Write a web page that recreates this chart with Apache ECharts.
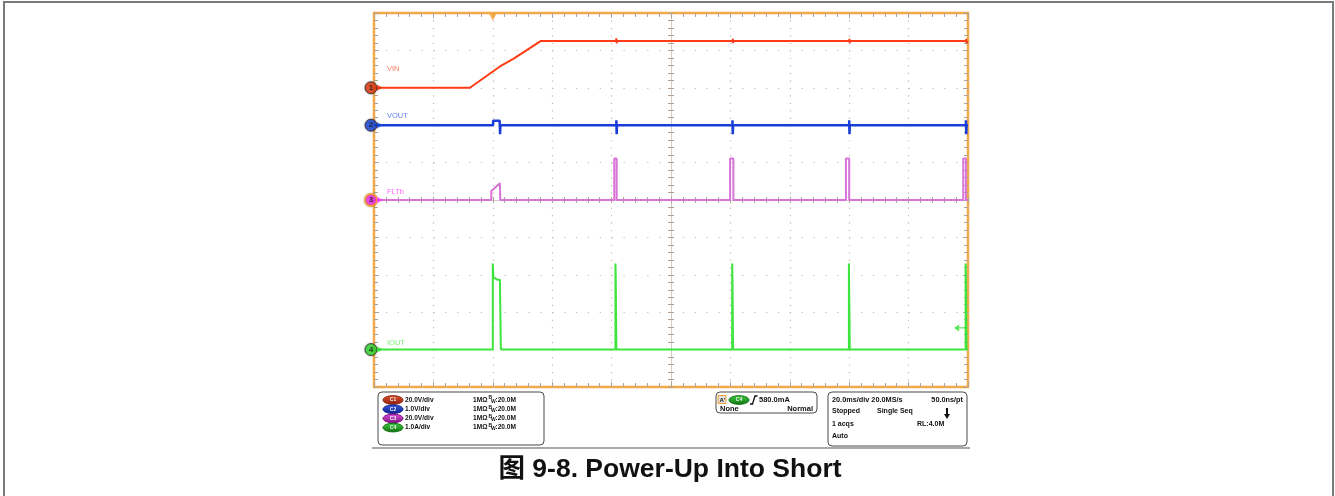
<!DOCTYPE html>
<html>
<head>
<meta charset="utf-8">
<script src="https://cdn.jsdelivr.net/npm/echarts@6/dist/echarts.min.js"></script>
<style>
  html, body { margin: 0; padding: 0; background: #ffffff; }
  #scope { width: 1335px; height: 496px; }
</style>
</head>
<body>
<div id="scope"></div>
<script>
// Time base: 20 ms/div, 10 divisions, trigger at t = 0 ms
const timeMin = -40;
const timeMax = 160;
const timePerDiv = 20;

// Channel names and vertical settings (units per division, baseline in divisions from bottom)
const channelNames = ['VIN', 'VOUT', 'FLTb', 'IOUT'];
const channelScale = [20, 1, 20, 1];
const channelBaseDiv = [8, 7, 5, 1];

// CH1 VIN (V)
const vinTime  = [-40, -7.7, 2.4, 6.9, 16.1, 41.5, 41.6, 41.7, 41.8, 80.7, 80.8, 80.9, 81.0, 120.0, 120.1, 120.2, 120.3, 159.3, 159.4, 159.5, 160];
const vinVolts = [0, 0, 11.4, 15.5, 25.0, 25.0, 26.4, 23.8, 25.0, 25.0, 26.2, 23.9, 25.0, 25.0, 26.2, 23.9, 25.0, 25.0, 26.2, 23.9, 25.0];

// CH2 VOUT (V)
const voutTime  = [-40, 0.1, 0.1, 2.3, 2.35, 2.45, 2.55, 41.6, 41.6, 41.7, 41.8, 80.7, 80.7, 80.8, 80.9, 120.0, 120.0, 120.1, 120.2, 159.3, 159.3, 159.4, 159.5, 160];
const voutVolts = [0, 0, 0.12, 0.12, 0, -0.24, 0, 0, 0.13, -0.24, 0, 0, 0.13, -0.24, 0, 0, 0.13, -0.24, 0, 0, 0.13, -0.24, 0, 0];

// CH3 FLTb (V)
const fltTime  = [-40, -0.5, -0.5, 2.4, 2.5, 40.9, 40.9, 41.7, 41.7, 79.9, 79.9, 81.0, 81.0, 118.9, 118.9, 120.0, 120.0, 158.4, 158.4, 159.3, 159.3, 160];
const fltVolts = [0, 0, 4.8, 8.9, 0, 0, 22.2, 22.2, 0, 0, 22.2, 22.2, 0, 0, 22.2, 22.2, 0, 0, 22.2, 22.2, 0, 0];

// CH4 IOUT (A)
const ioutTime = [-40, 0.0, 0.0, 0.2, 0.6, 1.5, 2.4, 2.7, 41.3, 41.3, 41.4, 41.6, 80.6, 80.6, 80.7, 80.9, 119.9, 119.9, 120.0, 120.2, 159.2, 159.2, 159.3, 159.5, 160];
const ioutAmps = [0, 0, 2.3, 1.93, 1.93, 1.87, 1.87, 0, 0, 2.3, 1.9, 0, 0, 2.3, 1.9, 0, 0, 2.3, 1.45, 0, 0, 2.3, 1.9, 0, 0];

// Trigger: CH4 rising edge at 580.0 mA
const triggerLevelAmps = 0.58;

const traceTimes  = [vinTime, voutTime, fltTime, ioutTime];
const traceValues = [vinVolts, voutVolts, fltVolts, ioutAmps];

const traceColors  = ['#ff3c16', '#1a3cd8', '#d873d8', '#3ee43e'];
const traceWidths  = [2, 2.5, 2, 2];
const markerFill   = ['#e8380f', '#1848e0', '#ff30ff', '#30e030'];
const labelColors  = ['#ff5a3a', '#3a62ff', '#ff44ff', '#56f056'];
const labelLift    = [-19, -9, -8, -7];

const gridDotColor = '#c2bab0';
const tickColor = '#b0a292';
const FONT = '"Liberation Sans", Arial, sans-serif';

function xAxisDef(extra) {
  return Object.assign({
    type: 'value', min: timeMin, max: timeMax, interval: timePerDiv,
    axisLabel: { show: false },
    axisLine: { show: false, onZero: false },
    splitLine: { show: false },
    axisTick: { show: true, inside: true, length: 5, lineStyle: { color: tickColor, width: 1 } },
    minorTick: { show: true, splitNumber: 5, length: 4, lineStyle: { color: tickColor, width: 1 } }
  }, extra);
}
function yAxisDef(extra) {
  return Object.assign({
    type: 'value', min: 0, max: 10, interval: 1,
    axisLabel: { show: false },
    axisLine: { show: false, onZero: false },
    splitLine: { show: false },
    axisTick: { show: true, inside: true, length: 5, lineStyle: { color: tickColor, width: 1 } },
    minorTick: { show: true, splitNumber: 5, length: 4, lineStyle: { color: tickColor, width: 1 } }
  }, extra);
}

const xAxes = [
  xAxisDef({ position: 'bottom',
    splitLine: { show: true, lineStyle: { color: gridDotColor, width: 1.2, type: [1.2, 6.28] } } }),
  xAxisDef({ position: 'top' }),
  xAxisDef({ position: 'bottom', offset: -187,
    axisLine: { show: true, onZero: false, lineStyle: { color: '#d2cbc3', width: 1 } },
    axisTick: { show: true, inside: true, length: 3, lineStyle: { color: tickColor } },
    minorTick: { show: true, splitNumber: 5, length: 3, lineStyle: { color: tickColor } } }),
  xAxisDef({ position: 'bottom', offset: -187,
    axisTick: { show: true, inside: false, length: 3, lineStyle: { color: tickColor } },
    minorTick: { show: true, splitNumber: 5, length: 3, lineStyle: { color: tickColor } } })
];

const yAxes = [
  yAxisDef({ position: 'left',
    splitLine: { show: true, lineStyle: { color: gridDotColor, width: 1.2, type: [1.2, 10.68] } } }),
  yAxisDef({ position: 'right' }),
  yAxisDef({ position: 'left', offset: -297,
    axisLine: { show: true, onZero: false, lineStyle: { color: '#d2cbc3', width: 1 } },
    axisTick: { show: true, inside: true, length: 3, lineStyle: { color: tickColor } },
    minorTick: { show: true, splitNumber: 5, length: 3, lineStyle: { color: tickColor } } }),
  yAxisDef({ position: 'left', offset: -297,
    axisTick: { show: true, inside: false, length: 3, lineStyle: { color: tickColor } },
    minorTick: { show: true, splitNumber: 5, length: 3, lineStyle: { color: tickColor } } })
];
// one hidden vertical scale per channel
channelNames.forEach((n, i) => {
  yAxes.push({
    type: 'value', show: false,
    min: -channelBaseDiv[i] * channelScale[i],
    max: (10 - channelBaseDiv[i]) * channelScale[i],
    axisLine: { onZero: false }
  });
});

const series = [];
channelNames.forEach((name, i) => {
  series.push({
    type: 'line', name: name, xAxisIndex: 0, yAxisIndex: 4 + i,
    data: traceTimes[i].map((t, k) => [t, traceValues[i][k]]),
    symbol: 'none', showSymbol: false, z: 3 + i * 0.1,
    lineStyle: { color: traceColors[i], width: traceWidths[i] }
  });
});
// channel ground markers, arrows and names on the left edge
channelNames.forEach((name, i) => {
  series.push({
    type: 'scatter', xAxisIndex: 0, yAxisIndex: 4 + i, clip: false, silent: true, z: 6,
    data: [[timeMin, 0]],
    symbol: 'circle', symbolSize: 12, symbolOffset: [-3, 0],
    itemStyle: {
      color: markerFill[i],
      borderColor: i === 2 ? '#ffa326' : '#3a2a2a',
      borderWidth: i === 2 ? 2 : 1,
      shadowBlur: 2, shadowColor: 'rgba(0,0,0,0.35)'
    },
    label: { show: true, position: 'inside', formatter: String(i + 1),
      color: '#111', fontSize: 8, fontWeight: 'bold', fontFamily: FONT }
  });
  series.push({
    type: 'scatter', xAxisIndex: 0, yAxisIndex: 4 + i, clip: false, silent: true, z: 6,
    data: [[timeMin, 0]],
    symbol: 'path://M0,0 L10,5 L0,10 Z', symbolSize: [6, 6], symbolOffset: [6, 0],
    itemStyle: { color: markerFill[i] }
  });
  series.push({
    type: 'scatter', xAxisIndex: 0, yAxisIndex: 4 + i, clip: false, silent: true, z: 6,
    data: [[timeMin, 0]],
    symbolSize: 0,
    label: { show: true, position: 'right', offset: [8, labelLift[i]], formatter: name,
      color: labelColors[i], fontSize: 7.5, fontFamily: FONT }
  });
});
// trigger position marker at top edge
series.push({
  type: 'scatter', xAxisIndex: 0, yAxisIndex: 0, clip: false, silent: true, z: 6,
  data: [[0, 10]],
  symbol: 'path://M0,0 L10,0 L5,9 Z', symbolSize: [8, 7], symbolOffset: [0, 4],
  itemStyle: { color: '#f5a031' }
});
// trigger level marker at right edge
series.push({
  type: 'scatter', xAxisIndex: 0, yAxisIndex: 7, clip: false, silent: true, z: 6,
  data: [[timeMax, triggerLevelAmps]],
  symbol: 'path://M0,5 L6,0 L6,4 L14,4 L14,6 L6,6 L6,10 Z', symbolSize: [12, 7], symbolOffset: [-8, 0],
  itemStyle: { color: '#36e036' }
});

// ---------- readout panel under the graticule ----------
const PANEL_FONT = 'bold 7px ' + FONT;
const CH_FONT = 'bold 6.6px ' + FONT;
function txt(x, y, s, opt) {
  return {
    type: 'text', x: x, y: y, silent: true,
    style: Object.assign({ text: s, font: PANEL_FONT, fill: '#111', verticalAlign: 'middle' }, opt || {})
  };
}
function badge(cx, cy, fill, dark, label) {
  return [
    { type: 'ellipse', silent: true, shape: { cx: cx, cy: cy, rx: 10, ry: 4.3 },
      style: { fill: new echarts.graphic.LinearGradient(0, 0, 0, 1, [
        { offset: 0, color: fill }, { offset: 1, color: dark }]), stroke: dark, lineWidth: 1 } },
    { type: 'text', silent: true, x: cx, y: cy,
      style: { text: label, font: 'bold 5px ' + FONT, fill: '#f4f4f4', align: 'center', verticalAlign: 'middle' } }
  ];
}

const scaleTexts = ['20.0V/div', '1.0V/div', '20.0V/div', '1.0A/div'];
const badgeFill = ['#e4502a', '#3a5ae8', '#e050e0', '#40d040'];
const badgeDark = ['#8a2010', '#10208a', '#801080', '#107010'];

const graphics = [];
// outer frame
graphics.push({ type: 'polyline', silent: true,
  shape: { points: [[4, 500], [4, 2], [1333, 2], [1333, 500]] },
  style: { stroke: '#7a7a7a', lineWidth: 2, fill: null } });
// bottom edge of the scope screen
graphics.push({ type: 'line', silent: true, shape: { x1: 372, y1: 448, x2: 970, y2: 448 },
  style: { stroke: '#a8a8a8', lineWidth: 2 } });

// channel box
graphics.push({ type: 'rect', silent: true, shape: { x: 378, y: 392, width: 166, height: 53, r: 4 },
  style: { fill: '#ffffff', stroke: '#4a4a4a', lineWidth: 1 } });
[400, 409.2, 418.4, 427.6].forEach((y, i) => {
  graphics.push(...badge(393, y, badgeFill[i], badgeDark[i], 'C' + (i + 1)));
  graphics.push(txt(405, y, scaleTexts[i], { font: CH_FONT }));
  graphics.push(txt(473, y, '1M\u03A9', { font: CH_FONT }));
  graphics.push(txt(488.5, y - 2, 'B', { font: 'bold 5px ' + FONT }));
  graphics.push(txt(491, y + 1.5, 'W', { font: 'bold 5px ' + FONT }));
  graphics.push(txt(495.5, y, ':20.0M', { font: CH_FONT }));
});

// trigger box
graphics.push({ type: 'rect', silent: true, shape: { x: 716, y: 392, width: 101, height: 21, r: 4 },
  style: { fill: '#ffffff', stroke: '#4a4a4a', lineWidth: 1 } });
graphics.push({ type: 'rect', silent: true, shape: { x: 718, y: 395.5, width: 8, height: 8 },
  style: { fill: '#e0e0e0', stroke: '#f0a030', lineWidth: 1 } });
graphics.push(txt(719.5, 400, "A'", { font: 'bold 6px ' + FONT }));
graphics.push(...badge(739, 400, badgeFill[3], badgeDark[3], 'C4'));
graphics.push({ type: 'polyline', silent: true, shape: { points: [[750, 404], [752.5, 404], [755, 396], [757.5, 396]] },
  style: { stroke: '#111', lineWidth: 1.3, fill: null } });
graphics.push(txt(759, 400, '580.0mA', { font: 'bold 7.5px ' + FONT }));
graphics.push(txt(720, 409, 'None', { font: 'bold 7.5px ' + FONT }));
graphics.push(txt(813, 409, 'Normal', { align: 'right', font: 'bold 7.5px ' + FONT }));

// timebase / acquisition box
graphics.push({ type: 'rect', silent: true, shape: { x: 828, y: 392, width: 139, height: 54, r: 4 },
  style: { fill: '#ffffff', stroke: '#4a4a4a', lineWidth: 1 } });
graphics.push(txt(832, 400, '20.0ms/div 20.0MS/s', { font: 'bold 7.3px ' + FONT }));
graphics.push(txt(963, 400, '50.0ns/pt', { align: 'right', font: 'bold 7.3px ' + FONT }));
graphics.push(txt(832, 411.5, 'Stopped'));
graphics.push(txt(877, 411.5, 'Single Seq'));
graphics.push({ type: 'polygon', silent: true,
  shape: { points: [[946, 408], [948, 408], [948, 414], [950, 414], [947, 419], [944, 414], [946, 414]] },
  style: { fill: '#111' } });
graphics.push(txt(832, 424, '1 acqs'));
graphics.push(txt(917, 424, 'RL:4.0M'));
graphics.push(txt(832, 436.5, 'Auto'));

// figure caption
graphics.push({ type: 'text', silent: true, x: 670, y: 470,
  style: { text: '\u56FE 9-8. Power-Up Into Short', font: 'bold 26.5px "Liberation Sans", "Noto Sans CJK SC", sans-serif',
    fill: '#111', align: 'center', verticalAlign: 'middle' } });

const chart = echarts.init(document.getElementById('scope'), null, { renderer: 'canvas' });
chart.setOption({
  animation: false,
  backgroundColor: '#ffffff',
  grid: { left: 374, top: 13, width: 594, height: 374, show: true,
    backgroundColor: '#ffffff', borderColor: '#f4a846', borderWidth: 2.5 },
  xAxis: xAxes,
  yAxis: yAxes,
  series: series,
  graphic: graphics
});
</script>
</body>
</html>
